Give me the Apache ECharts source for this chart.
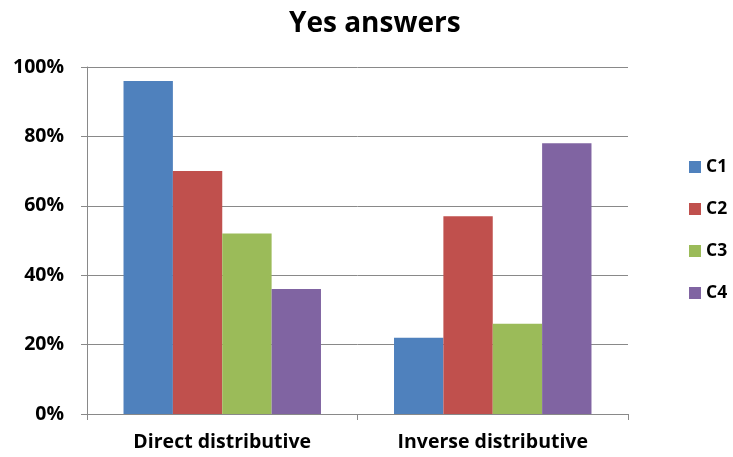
<!DOCTYPE html>
<html>
<head>
<meta charset="utf-8">
<script src="https://cdn.jsdelivr.net/npm/echarts@6/dist/echarts.min.js"></script>
<style>
  html, body { margin: 0; padding: 0; background: #fff; }
  #chart { width: 733px; height: 457px; }
</style>
</head>
<body>
<div id="chart"></div>
<script>
// Share of "yes" answers per group, by condition
const categories = ['Direct distributive', 'Inverse distributive'];
const seriesNames = ['C1', 'C2', 'C3', 'C4'];
const c1 = [96, 22];
const c2 = [70, 57];
const c3 = [52, 26];
const c4 = [36, 78];
const yTicks = [0, 20, 40, 60, 80, 100];

const colors = ['#4F81BD', '#C0504D', '#9BBB59', '#8064A2'];
const values = [c1, c2, c3, c4];
const font = '"Open Sans", Lato, sans-serif';

const chart = echarts.init(document.getElementById('chart'));
chart.setOption({
  animation: false,
  title: {
    text: 'Yes answers',
    left: 284,
    top: 5,
    textStyle: { fontFamily: font, fontSize: 28, fontWeight: 'bold', color: '#000' }
  },
  legend: {
    orient: 'vertical',
    left: 684,
    top: 153,
    itemWidth: 12,
    itemHeight: 12,
    itemGap: 24,
    icon: 'rect',
    data: seriesNames,
    textStyle: { fontFamily: font, fontSize: 17.5, fontWeight: 'bold', color: '#000', lineHeight: 18, padding: [0, 0, 0, 0] }
  },
  grid: { left: 87, right: 105, top: 67, bottom: 43, containLabel: false },
  xAxis: {
    type: 'category',
    data: categories,
    axisLine: { lineStyle: { color: '#898989', width: 1 } },
    axisTick: { show: true, length: 6, lineStyle: { color: '#898989' } },
    axisLabel: { fontFamily: font, fontSize: 19.5, fontWeight: 'bold', color: '#000', margin: 18 }
  },
  yAxis: {
    type: 'value',
    min: 0,
    max: 100,
    interval: 20,
    axisLine: { show: true, lineStyle: { color: '#898989' } },
    axisTick: { show: true, length: 6, lineStyle: { color: '#898989' } },
    splitLine: { lineStyle: { color: '#898989', width: 1 } },
    axisLabel: {
      fontFamily: font, fontSize: 19.5, fontWeight: 'bold', color: '#000', margin: 23,
      formatter: v => (yTicks.includes(v) ? v + '%' : '')
    }
  },
  series: seriesNames.map((name, i) => ({
    name,
    type: 'bar',
    data: values[i],
    barGap: '0%',
    barCategoryGap: '27%',
    itemStyle: { color: colors[i] }
  }))
});
</script>
</body>
</html>
